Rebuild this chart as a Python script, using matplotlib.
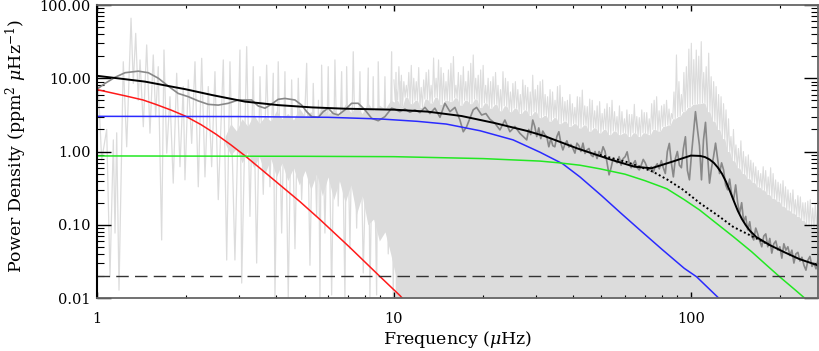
import numpy as np
import matplotlib
matplotlib.use("Agg")
import matplotlib.pyplot as plt
from matplotlib.ticker import FixedLocator, LogLocator, NullFormatter

plt.rcParams['font.family'] = ['DejaVu Serif']
plt.rcParams['mathtext.fontset'] = 'dejavuserif'

# ---------------- data ----------------
# raw power spectrum, low frequencies (resolved spikes): frequency (µHz), power
raw_lo_freq = [1.010, 1.037, 1.078, 1.106, 1.135, 1.150, 1.165, 1.186, 1.226, 1.259,
               1.302, 1.325, 1.350, 1.377, 1.396, 1.432, 1.470, 1.508, 1.547, 1.576,
               1.608, 1.651, 1.681, 1.717, 1.761, 1.806, 1.855, 1.903, 1.952, 1.978,
               2.030, 2.084, 2.138, 2.193, 2.252, 2.310, 2.370, 2.433, 2.496, 2.561,
               2.663, 2.734, 2.804, 2.914, 3.030, 3.071, 3.192, 3.274, 3.359, 3.449,
               3.539, 3.630, 3.727, 3.823, 3.923, 3.975, 4.077, 4.187, 4.295, 4.406,
               4.524, 4.642, 4.762, 4.889, 5.083, 5.214, 5.349, 5.492, 5.569, 5.634,
               5.708, 5.856, 6.008, 6.169, 6.328, 6.492, 6.666, 6.839, 6.930, 7.109,
               7.294, 7.489, 7.683, 7.882, 8.193, 8.301, 8.516, 8.744, 8.853, 9.090,
               9.326, 9.569, 9.824, 9.946, 10.16, 10.32, 10.56, 10.73]
raw_lo_power = [7.7, 0.76, 2.0, 0.0195, 1.44, 0.077, 1.8, 0.0128, 16.8, 1.16,
                66.0, 8.5, 41.0, 5.0, 17.8, 2.18, 28.5, 1.78, 20.8, 2.99,
                14.4, 0.062, 24.3, 0.95, 5.6, 0.37, 11.7, 0.62, 7.7, 0.41,
                9.5, 1.29, 16.8, 0.33, 18.7, 0.45, 7.7, 0.62, 12.3, 0.22,
                17.8, 0.033, 16.8, 0.033, 24.3, 0.016, 27.0, 0.13, 14.4, 0.03,
                10.5, 0.26, 15.1, 0.33, 11.7, 0.01, 16.8, 0.077, 12.3, 0.01,
                9.5, 0.047, 10.0, 0.22, 16.0, 0.028, 8.5, 0.13, 5.0, 0.01,
                15.1, 0.077, 14.4, 0.011, 17.8, 0.18, 12.3, 0.01, 14.4, 0.047,
                23.0, 0.09, 12.3, 0.022, 13.8, 0.01, 10.5, 0.011, 16.8, 0.077,
                10.5, 0.04, 23.0, 0.01, 12.0, 0.02, 9.0, 0.01]

# denser middle part of the raw spectrum between 2.7 and 10.2 µHz (jagged edges)
core_freq = [2.7, 2.82, 2.95, 3.08, 3.22, 3.37, 3.52, 3.68, 3.85, 4.02,
             4.2, 4.39, 4.59, 4.8, 5.02, 5.25, 5.49, 5.74, 6.0, 6.27,
             6.55, 6.85, 7.16, 7.48, 7.82, 8.17, 8.54, 8.93, 9.33, 9.75, 10.2]
core_high = [1.6, 2.4, 1.9, 2.8, 2.2, 3.2, 2.4, 3.0, 2.6, 3.6,
             2.8, 3.3, 2.7, 3.9, 3.0, 3.5, 2.9, 4.2, 3.2, 3.8,
             3.1, 4.4, 3.4, 4.0, 3.3, 4.6, 3.6, 4.3, 3.8, 5.0, 4.6]
core_low = [1.3, 0.9, 1.1, 0.7, 1.0, 0.6, 0.85, 0.5, 0.8, 0.45,
            0.7, 0.4, 0.6, 0.35, 0.55, 0.3, 0.5, 0.25, 0.45, 0.22,
            0.4, 0.2, 0.35, 0.14, 0.25, 0.1, 0.12, 0.06, 0.08, 0.04, 0.018]

# raw power spectrum, high frequencies (unresolved): tall spikes, second spikes, solid band top
raw_hi_range = (10.0, 270.0)
raw_hi_spikes = [9.5, 14.4, 9.0, 12.0, 10.0, 14.0, 9.5, 13.0, 18.9, 17.8,
                 11.7, 13.0, 19.8, 12.0, 14.4, 12.5, 20.8, 11.0, 15.0, 10.0,
                 10.5, 8.0, 12.3, 9.0, 8.5, 7.0, 9.5, 7.5, 11.0, 8.0,
                 9.5, 5.6, 6.5, 7.7, 5.5, 5.0, 4.5, 5.6, 6.9, 4.1,
                 5.0, 4.2, 3.3, 4.5, 5.0, 3.0, 3.5, 3.7, 3.2, 3.0,
                 3.7, 3.4, 4.5, 5.6, 4.2, 5.0, 3.3, 20.8, 6.0, 14.4,
                 30.0, 24.3, 31.6, 14.4, 10.5, 7.7, 5.6, 3.7, 1.6, 1.23,
                 1.4, 0.85, 0.76, 0.62, 0.5, 0.55, 0.6, 0.41, 0.36, 0.33,
                 0.27, 0.22, 0.24, 0.2, 0.22, 0.19]
raw_hi_spikes2 = [7.0, 11.0, 8.0, 15.0, 9.0, 7.5, 12.0, 8.0, 10.0, 14.0,
                  9.0, 16.0, 8.0, 11.0, 9.0, 16.0, 10.0, 13.0, 8.0, 9.0,
                  12.0, 7.0, 10.0, 6.5, 9.0, 6.0, 8.0, 6.5, 7.0, 9.0,
                  6.0, 7.0, 5.0, 8.0, 4.8, 6.0, 4.0, 5.5, 4.2, 5.2,
                  3.6, 4.8, 3.8, 4.0, 3.5, 4.2, 2.8, 3.2, 4.4, 2.9,
                  3.4, 2.8, 5.0, 3.6, 4.4, 3.8, 6.5, 9.0, 12.0, 25.0,
                  18.0, 20.0, 12.0, 22.0, 9.0, 6.0, 4.5, 2.8, 2.0, 1.1,
                  1.0, 0.9, 0.7, 0.55, 0.62, 0.45, 0.5, 0.38, 0.4, 0.3,
                  0.3, 0.25, 0.2, 0.21, 0.17, 0.2]
raw_hi_base = [5.0, 4.2, 5.5, 4.5, 5.0, 4.0, 5.2, 4.6, 5.5, 4.4,
               5.0, 4.8, 5.4, 4.3, 5.0, 4.5, 5.2, 4.0, 4.6, 3.9,
               4.4, 3.6, 4.2, 3.5, 3.9, 3.3, 3.7, 3.1, 3.5, 2.9,
               3.1, 2.6, 2.9, 2.4, 2.6, 2.2, 2.4, 2.1, 2.3, 1.9,
               2.1, 1.8, 2.0, 1.7, 1.9, 1.7, 1.8, 1.6, 1.8, 1.6,
               1.8, 1.7, 2.0, 1.9, 2.2, 2.3, 2.8, 3.0, 3.5, 4.0,
               4.4, 4.5, 4.6, 3.5, 2.6, 2.0, 1.5, 1.0, 0.75, 0.6,
               0.5, 0.43, 0.38, 0.33, 0.3, 0.26, 0.23, 0.21, 0.18, 0.16,
               0.145, 0.13, 0.115, 0.1, 0.09, 0.085]

# smoothed spectrum (dark grey), low-frequency part
smooth_freq = [1.0, 1.064, 1.15, 1.243, 1.377, 1.488, 1.609, 1.738, 1.878, 2.03,
               2.194, 2.37, 2.561, 2.768, 2.991, 3.318, 3.492, 3.68, 3.875, 4.077,
               4.296, 4.642, 4.889, 5.083, 5.284, 5.563, 5.781, 6.009, 6.246, 6.494,
               6.839, 7.203, 7.581, 7.986, 8.413, 8.853, 9.326, 9.824, 10.08, 10.47,
               10.89, 11.32, 11.77, 12.23, 12.72, 13.22, 13.74, 14.29, 14.85, 15.44,
               16.05, 16.68, 17.12, 17.57, 18.49, 18.98, 19.74, 20.4, 21.05, 21.88,
               22.75, 23.64, 24.58, 25.55, 26.56]
smooth_power = [7.1, 8.5, 10.3, 11.9, 12.5, 11.9, 10.0, 7.8, 6.2, 5.6,
                4.9, 4.4, 4.3, 4.55, 5.05, 5.05, 4.18, 3.9, 4.45, 5.16,
                5.3, 5.05, 4.3, 3.5, 2.99, 2.93, 3.5, 3.9, 3.3, 3.15,
                3.7, 4.55, 4.55, 3.7, 2.84, 2.63, 2.99, 3.9, 3.77, 3.5,
                3.8, 3.43, 3.7, 3.4, 4.0, 3.3, 3.9, 2.93, 4.55, 3.5,
                4.0, 2.69, 1.86, 2.18, 3.7, 4.0, 3.15, 3.3, 2.75, 2.43,
                1.97, 2.69, 1.86, 2.2, 1.77]
# smoothed spectrum, high-frequency part (evenly spaced in log frequency)
smooth_hi_range = (28.0, 268.0)
smooth_hi_power = [1.44, 2.0, 1.7, 2.69, 2.2, 1.6, 2.1, 1.5, 1.9, 1.7,
                   1.59, 1.16, 1.5, 1.2, 1.16, 1.6, 1.86, 1.3, 1.05, 1.25,
                   1.4, 1.15, 1.25, 1.1, 0.95, 1.3, 1.2, 1.0, 1.3, 0.94,
                   1.05, 1.1, 0.9, 0.85, 1.0, 0.8, 1.0, 0.9, 1.16, 1.0,
                   0.7, 0.48, 0.6, 0.8, 0.75, 0.7, 0.85, 0.65, 0.8, 0.85,
                   0.99, 0.7, 0.6, 0.68, 0.75, 0.6, 0.56, 0.65, 0.78, 0.7,
                   0.6, 0.56, 0.62, 0.52, 0.62, 0.68, 0.58, 0.75, 0.6, 0.5,
                   1.0, 1.29, 0.7, 0.45, 0.8, 1.0, 0.65, 0.6, 1.1, 1.59,
                   0.55, 0.41, 0.9, 1.77, 3.5, 2.0, 1.2, 0.41, 1.44, 2.5,
                   0.9, 0.37, 0.6, 0.85, 1.3, 0.8, 0.5, 0.7, 0.56, 0.35,
                   0.3, 0.42, 0.26, 0.22, 0.35, 0.2, 0.143, 0.2, 0.11, 0.13,
                   0.085, 0.11, 0.07, 0.062, 0.09, 0.075, 0.06, 0.05, 0.07, 0.075,
                   0.05, 0.065, 0.041, 0.055, 0.06, 0.045, 0.05, 0.035, 0.055, 0.045,
                   0.05, 0.038, 0.045, 0.03, 0.04, 0.042, 0.032, 0.036, 0.028, 0.024,
                   0.033, 0.037, 0.027, 0.03, 0.025, 0.033]

# total fitted model (black)
model_freq = [1.0, 1.45, 1.98, 2.44, 3.15, 4.07, 5.3, 6.84, 10.09, 13.0,
              16.9, 21.8, 28.2, 32.2, 41.5, 54.0, 64.6, 73.6, 86.0, 100.0,
              107.5, 111.5, 115.5, 119.5, 123.0, 127.2, 131.2, 135.3, 139.6, 143.9,
              148.5, 153.2, 158.0, 166.0, 184.0, 207.0, 232.0, 267.0]
model_power = [10.8, 9.0, 7.1, 5.9, 4.8, 4.3, 4.0, 3.84, 3.72, 3.5,
               3.05, 2.45, 1.9, 1.62, 1.1, 0.77, 0.62, 0.59, 0.72, 0.88,
               0.87, 0.84, 0.78, 0.70, 0.61, 0.50, 0.39, 0.29, 0.21, 0.155,
               0.12, 0.098, 0.083, 0.068, 0.053, 0.042, 0.034, 0.028]

# background model without the oscillation hump (dotted)
bg_freq = [49.3, 60.7, 67.3, 74.5, 83.6, 94.2, 107.5, 122.6, 138.6, 158.0, 184.0]
bg_power = [0.9, 0.72, 0.62, 0.53, 0.41, 0.30, 0.196, 0.136, 0.094, 0.072, 0.053]

# Harvey components
red_freq = [1.0, 1.122, 1.259, 1.429, 1.585, 1.778, 1.982, 2.239, 2.512, 2.818,
            3.148, 3.548, 4.13, 4.83, 5.62, 7.08, 8.91, 10.5, 11.2]
red_power = [7.0, 6.31, 5.69, 5.05, 4.37, 3.67, 3.05, 2.33, 1.73, 1.24,
             0.877, 0.586, 0.350, 0.206, 0.119, 0.0497, 0.0202, 0.0107, 0.0079]

blue_freq = [1.0, 3.0, 6.0, 9.0, 12.0, 15.0, 19.5, 25.2, 31.0, 37.0,
             42.3, 50.0, 58.0, 67.3, 80.0, 95.0, 104.5, 124.0, 130.0]
blue_power = [3.02, 3.0, 2.93, 2.78, 2.58, 2.37, 1.92, 1.44, 0.98, 0.68,
              0.45, 0.25, 0.145, 0.085, 0.046, 0.0254, 0.0195, 0.01, 0.0085]

green_freq = [1.0, 5.0, 10.0, 20.0, 31.0, 36.0, 42.3, 49.4, 60.0, 70.0,
              83.0, 95.0, 107.0, 120.0, 139.0, 160.0, 180.0, 199.0, 225.0, 245.0, 260.0]
green_power = [0.87, 0.86, 0.85, 0.80, 0.74, 0.70, 0.65, 0.58, 0.49, 0.40,
               0.31, 0.22, 0.159, 0.11, 0.0687, 0.043, 0.028, 0.0195, 0.0128, 0.0095, 0.0077]

white_noise = 0.02

x_ticks = [1, 10, 100]
x_ticklabels = ['1', '10', '100']
y_ticks = [0.01, 0.1, 1, 10, 100]
y_ticklabels = ['0.01', '0.10', '1.00', '10.00', '100.00']

# ---------------- figure ----------------
fig = plt.figure(figsize=(8.19, 3.51), dpi=100)
ax = fig.add_axes([97 / 819, 53 / 351, 721 / 819, 293 / 351])
ax.set_xscale('log')
ax.set_yscale('log')
ax.set_xlim(1, 268)
ax.set_ylim(0.01, 100)

lg = '#dcdcdc'
# denser middle band (low frequencies)
ax.fill_between(core_freq, core_low, core_high, color=lg, lw=0, zorder=1)
ax.plot(raw_lo_freq, raw_lo_power, color=lg, lw=0.9, zorder=1)

# high-frequency raw spectrum: solid band + spikes
n_hi = len(raw_hi_spikes)
hi_freq = np.geomspace(raw_hi_range[0], raw_hi_range[1], 4 * n_hi)
hi_line = np.empty(4 * n_hi)
hi_line[0::4] = raw_hi_spikes
hi_line[1::4] = raw_hi_base
hi_line[2::4] = raw_hi_spikes2
hi_line[3::4] = raw_hi_base
ax.fill_between(hi_freq[1::2], 1e-4, hi_line[1::2], color=lg, lw=0, zorder=1)
ax.plot(hi_freq, hi_line, color=lg, lw=0.8, zorder=1)

# smoothed spectrum
hi_s_freq = np.geomspace(smooth_hi_range[0], smooth_hi_range[1], len(smooth_hi_power))
ax.plot(np.concatenate([smooth_freq, hi_s_freq]),
        np.concatenate([smooth_power, smooth_hi_power]),
        color='#888888', lw=1.2, zorder=2)

ax.plot(red_freq, red_power, color='#ff1a1a', lw=1.1, zorder=3)
ax.plot(blue_freq, blue_power, color='#2a2aff', lw=1.1, zorder=3)
ax.plot(green_freq, green_power, color='#22e822', lw=1.1, zorder=3)
ax.axhline(white_noise, color='#333333', lw=1.0, ls=(0, (9, 4.5)), zorder=3)
ax.plot(bg_freq, bg_power, color='black', lw=1.4, ls=(0, (1, 1.3)), zorder=4)
ax.plot(model_freq, model_power, color='black', lw=1.4, zorder=5)

# axes styling
for side in ['top', 'right', 'bottom']:
    ax.spines[side].set_color('#666666')
    ax.spines[side].set_linewidth(1.3)
ax.spines['left'].set_color('black')
ax.spines['left'].set_linewidth(1.5)
for s in ax.spines.values():
    s.set_zorder(10)

ax.xaxis.set_major_locator(FixedLocator(x_ticks))
ax.set_xticklabels(x_ticklabels)
ax.yaxis.set_major_locator(FixedLocator(y_ticks))
ax.set_yticklabels(y_ticklabels)
ax.xaxis.set_minor_locator(LogLocator(base=10, subs=range(2, 10), numticks=20))
ax.yaxis.set_minor_locator(LogLocator(base=10, subs=range(2, 10), numticks=20))
ax.xaxis.set_minor_formatter(NullFormatter())
ax.yaxis.set_minor_formatter(NullFormatter())

ax.tick_params(which='both', direction='in', top=True, right=True, color='black')
ax.tick_params(axis='y', which='major', length=10, width=1.0, pad=4.5, labelsize=10.5)
ax.tick_params(axis='y', which='minor', length=5, width=0.8)
ax.tick_params(axis='x', which='major', length=4.3, width=1.0, pad=10, labelsize=10.5)
ax.tick_params(axis='x', which='minor', length=2.2, width=0.8)

ax.set_xlabel(r'Frequency ($\mu$Hz)', fontsize=12.5)
ax.set_ylabel(r'Power Density (ppm$^2$ $\mu$Hz$^{-1}$)', fontsize=12.5)
ax.xaxis.set_label_coords(0.5, -0.105)
ax.yaxis.set_label_coords(-0.095, 0.52)

fig.savefig('out.png', dpi=100)
